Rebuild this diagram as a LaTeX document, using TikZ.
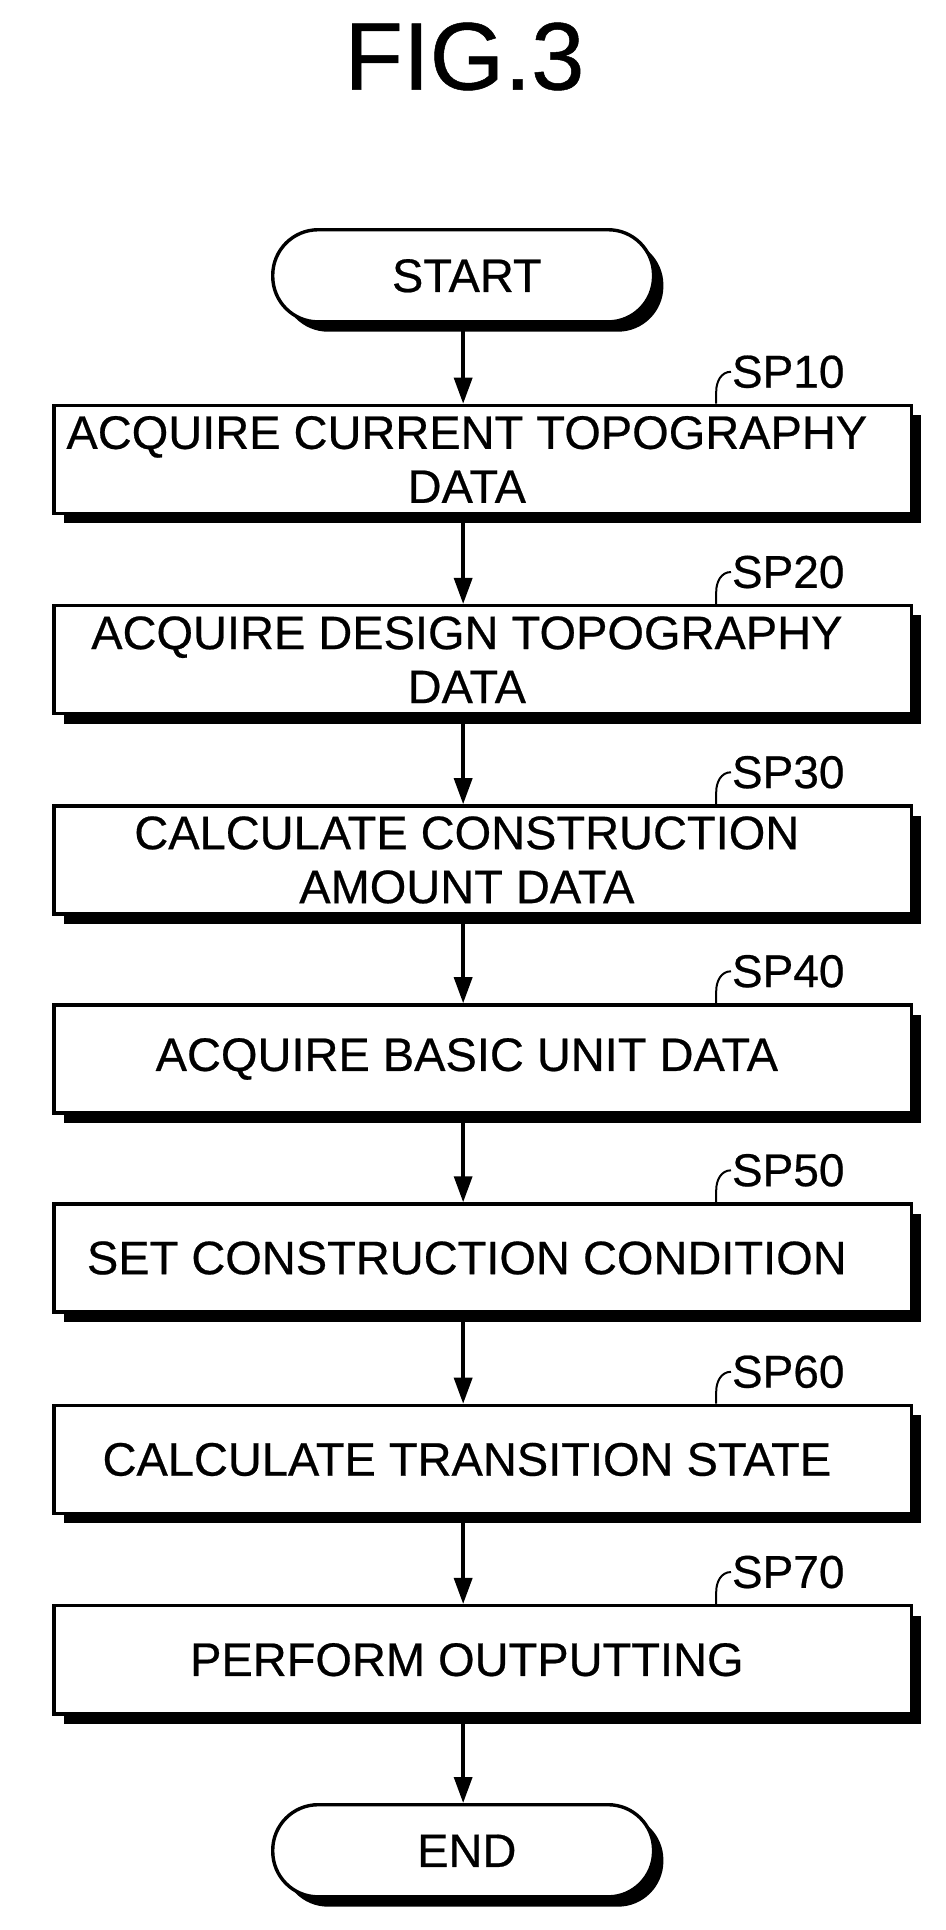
\documentclass[tikz,border=0pt]{standalone}
\usepackage{fontspec}
\setmainfont{Liberation Sans}[FakeBold=0.5]
\usetikzlibrary{arrows.meta,shadows}
\begin{document}
\begin{tikzpicture}[x=1.2286pt,y=-1.2286pt,
  box/.style={draw,line width=3.4pt,fill=white,minimum width=698*1.2286pt,minimum height=88*1.2286pt,
    general shadow={fill=black,shadow xshift=8*1.2286pt,shadow yshift=-8*1.2286pt}},
  term/.style={box,rounded corners=37*1.2286pt,minimum width=310*1.2286pt,minimum height=75*1.2286pt},
  txt/.style={align=center,font=\fontsize{47}{54}\selectfont},
  arr/.style={line width=3.4pt,-{Triangle[length=26pt,width=18pt]}},
  lbl/.style={font=\fontsize{46}{46}\selectfont,anchor=west,inner sep=0pt}]
\useasboundingbox (0,0) rectangle (770,1571);
\node[font=\fontsize{96}{96}\selectfont] (title) at (378,46) {FIG.3};
\node[term] (start) at (377,224.5) {};
\node[txt] (startt) at (380,224.5) {START};
\def\bx#1#2#3#4{\node[box] (#1) at (393,#2) {};
  \node[txt] (#1t) at (380,#2) {#3};
  \draw[line width=2pt] (#1.north)++(190,0) coordinate (#1c) -- ++(0,-10) .. controls ++(0,-8) and ++(-8,0) .. ++(12,-16) node[lbl] (#1l) {#4};}
\bx{b1}{374}{ACQUIRE CURRENT TOPOGRAPHY\\DATA}{SP10}
\bx{b2}{537}{ACQUIRE DESIGN TOPOGRAPHY\\DATA}{SP20}
\bx{b3}{700}{CALCULATE CONSTRUCTION\\AMOUNT DATA}{SP30}
\bx{b4}{862}{ACQUIRE BASIC UNIT DATA}{SP40}
\bx{b5}{1024}{SET CONSTRUCTION CONDITION}{SP50}
\bx{b6}{1188}{CALCULATE TRANSITION STATE}{SP60}
\bx{b7}{1351}{PERFORM OUTPUTTING}{SP70}
\node[term] (end) at (377,1506.5) {};
\node[txt] (endt) at (380,1506.5) {END};
\foreach \a/\b in {start/b1,b1/b2,b2/b3,b3/b4,b4/b5,b5/b6,b6/b7,b7/end}
  \draw[arr] (\a.south -| start) -- (\b.north -| start);
\end{tikzpicture}
\end{document}
